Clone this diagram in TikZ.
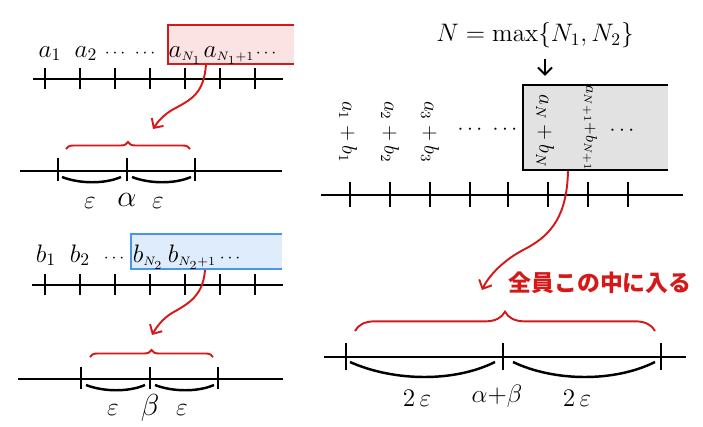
\documentclass[tikz,border=0pt]{standalone}
\usepackage{fontspec}
\newfontfamily\jpfont{Noto Sans CJK JP}
\usetikzlibrary{arrows.meta,decorations.pathreplacing}

\definecolor{penred}{RGB}{214,24,24}
\definecolor{boxpink}{RGB}{251,227,227}
\definecolor{penblue}{RGB}{70,150,235}
\definecolor{boxblue}{RGB}{222,236,252}
\definecolor{boxgray}{RGB}{226,226,226}

\begin{document}
\begin{tikzpicture}[x=0.02cm, y=-0.02cm,
  axis/.style={line width=1.4pt},
  cup/.style={line width=1.4pt},
  redpen/.style={penred, line width=1.1pt, -{Straight Barb[length=4pt,width=8pt]}},
  curly/.style={penred, line width=1.1pt, decorate, decoration={brace, amplitude=#1}},
  seqlabel/.style={anchor=base, inner sep=0pt, font=\Large},
  dotlabel/.style={anchor=base, inner sep=0pt, font=\normalsize},
  sumlabel/.style={rotate=-90, inner sep=0pt, font=\large},
  mathlabel/.style={font=\Large}]

\useasboundingbox (0,0) rectangle (703,426);

% Sequence a_n, tail from N_1 on marked
\node[fill=boxpink, minimum width=2.52cm, minimum height=0.78cm, inner sep=0pt] (tailA) at (231,44.5) {};
\draw[penred, line width=1.2pt] (tailA.north east) -- (tailA.north west) -- (tailA.south west) -- (tailA.south east);
\foreach \x/\lab [count=\i] in {50/a_1, 86/a_2, 185/a_{\scriptscriptstyle N_1}, 229/a_{\scriptscriptstyle N_1{+}1}}
  \node[seqlabel] (a\i) at (\x,57) {$\lab$};
\foreach \x [count=\i] in {115,145,266}
  \node[dotlabel] (adots\i) at (\x,57) {$\cdots$};
\draw[axis] (33,79) -- (283,79);
\foreach \x in {45,80,...,255} \draw[axis] (\x,68) -- (\x,89);

% The tail falls near alpha
\coordinate (fromA) at (206,64);
\coordinate (toA) at (153,129);
\draw[redpen] (fromA) .. controls (204,95) and (190,100) .. (172,110) .. controls (162,116) and (157,123) .. (toA);

% Neighbourhood of alpha
\draw[axis] (20,171) -- (282,171);
\foreach \x in {58,127,195} \draw[axis] (\x,158) -- (\x,181);
\draw[curly=4pt] (66,149) -- (190,149);
\draw[cup] (62,177) .. controls (80,184) and (105,184) .. (121,177);
\draw[cup] (132,177) .. controls (150,184) and (175,184) .. (191,177);
\node[mathlabel] (epsA1) at (90,203) {$\varepsilon$};
\node[font=\LARGE] (alpha) at (127,200) {$\alpha$};
\node[mathlabel] (epsA2) at (158,203) {$\varepsilon$};

% Sequence b_n, tail from N_2 on marked
\node[fill=boxblue, minimum width=3.02cm, minimum height=0.70cm, inner sep=0pt] (tailB) at (206.5,251.5) {};
\draw[penblue, line width=1.2pt] (tailB.north east) -- (tailB.north west) -- (tailB.south west) -- (tailB.south east);
\foreach \x/\lab [count=\i] in {46/b_1, 80/b_2, 148/b_{\scriptscriptstyle N_2}, 192/b_{\scriptscriptstyle N_2{+}1}}
  \node[seqlabel] (b\i) at (\x,262) {$\lab$};
\foreach \x [count=\i] in {114,230}
  \node[dotlabel] (bdots\i) at (\x,262) {$\cdots$};
\draw[axis] (32,285) -- (283,285);
\foreach \x in {45,80,...,255} \draw[axis] (\x,274) -- (\x,295);

% The tail falls near beta
\coordinate (fromB) at (205,270);
\coordinate (toB) at (152,335);
\draw[redpen] (fromB) .. controls (203,295) and (190,303) .. (172,313) .. controls (162,319) and (156,328) .. (toB);

% Neighbourhood of beta
\draw[axis] (18,379) -- (283,379);
\foreach \x in {81,150,218} \draw[axis] (\x,367) -- (\x,389);
\draw[curly=4pt] (90,357) -- (213,357);
\draw[cup] (86,385) .. controls (104,392) and (129,392) .. (145,385);
\draw[cup] (155,385) .. controls (173,392) and (198,392) .. (214,385);
\node[mathlabel] (epsB1) at (113,410) {$\varepsilon$};
\node[font=\LARGE] (beta) at (150,408) {$\beta$};
\node[mathlabel] (epsB2) at (182,410) {$\varepsilon$};

% Sums a_n + b_n, tail from N on marked
\node[mathlabel] (title) at (535,35) {$N=\max\{N_1,N_2\}$};
\node[fill=boxgray, minimum width=2.9cm, minimum height=1.7cm, inner sep=0pt] (tailC) at (595.5,127.5) {};
\draw[line width=1.2pt] (tailC.north east) -- (tailC.north west) -- (tailC.south west) -- (tailC.south east);
\foreach \x/\lab [count=\i] in {348/a_1+b_1, 390/a_2+b_2, 430/a_3+b_3}
  \node[sumlabel] (s\i) at (\x,132) {$\lab$};
\node[font=\large] (sdots1) at (470,130) {$\cdots$};
\node[font=\large] (sdots2) at (505,130) {$\cdots$};
\node[sumlabel] (sN) at (545,131) {$a_N+b_N$};
\node[sumlabel, font=\small] (sN1) at (590,128) {$a_{N+1}{+}b_{N+1}$};
\node[font=\large] (sdots3) at (622,131) {$\cdots$};
\draw[line width=1.1pt, -{Straight Barb[length=4pt,width=8pt]}, shorten <=3pt, shorten >=5pt] (title.south -| sN) -- (tailC.north -| sN);
\draw[axis] (321,195) -- (683,195);
\foreach \x in {350,390,430,470,508,548,588,628} \draw[axis] (\x,182) -- (\x,207);

% All terms land in the neighbourhood of alpha+beta
\coordinate (fromC) at (568,171);
\coordinate (toC) at (482,290);
\draw[redpen] (fromC) .. controls (567,215) and (552,235) .. (525,249) .. controls (505,259) and (489,275) .. (toC);
\node[penred, font=\jpfont\bfseries\fontsize{13}{15}\selectfont] (inside) at (600,283) {全員この中に入る};

% Neighbourhood of alpha+beta
\draw[axis] (324,357) -- (686,357);
\foreach \x in {346,503,661} \draw[axis] (\x,343) -- (\x,370);
\draw[curly=11pt] (355,331) -- (655,331);
\draw[cup] (350,362) .. controls (395,382) and (455,382) .. (495,362);
\draw[cup] (513,362) .. controls (555,382) and (615,382) .. (655,362);
\node[mathlabel] (twoeps1) at (417,398) {$2\,\varepsilon$};
\node[mathlabel] (sumab) at (497,396) {$\alpha{+}\beta$};
\node[mathlabel] (twoeps2) at (577,398) {$2\,\varepsilon$};

\end{tikzpicture}
\end{document}
